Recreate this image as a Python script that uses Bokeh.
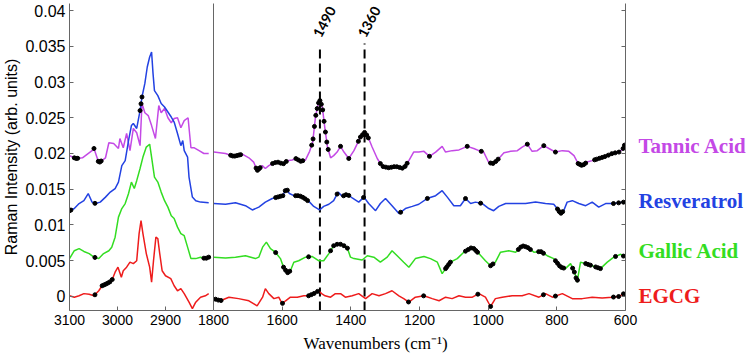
import numpy as np
from bokeh.plotting import figure
from bokeh.layouts import row
from bokeh.models import Range1d, FixedTicker, NumeralTickFormatter, Label, Title, ColumnDataSource
from bokeh.core.properties import value
from bokeh.embed import file_html
from bokeh.resources import INLINE

# ---------------- data (wavenumber in cm-1, Raman intensity in arb. units) ----------------
# Left panel: 3100 - 2800 cm-1
TA_L_W = [3100, 3087, 3073, 3053, 3049, 3039, 3025, 3018, 3008, 2998, 2995, 2988, 2981, 2974, 2967,
          2960, 2953, 2949, 2943, 2936, 2929, 2921, 2914, 2909, 2902, 2895, 2888, 2882, 2875, 2868,
          2861, 2853, 2847, 2840, 2830, 2820, 2810]
TA_L_V = [0.0197, 0.0193, 0.0194, 0.0204, 0.0207, 0.0187, 0.0194, 0.0215, 0.0214, 0.0207, 0.0221,
          0.0208, 0.0228, 0.0204, 0.0235, 0.0229, 0.0211, 0.0270, 0.0257, 0.0253, 0.0239, 0.0221,
          0.0267, 0.0257, 0.0263, 0.0250, 0.0243, 0.0249, 0.0250, 0.0236, 0.0246, 0.0250, 0.0208,
          0.0208, 0.0204, 0.0200, 0.0200]

RE_L_W = [3100, 3090, 3080, 3070, 3061, 3053, 3046, 3036, 3025, 3015, 3005, 2998, 2991, 2984, 2977,
          2971, 2967, 2960, 2953, 2949, 2943, 2938, 2933, 2929, 2926, 2923, 2916, 2909, 2902, 2895,
          2888, 2882, 2875, 2868, 2864, 2861, 2854, 2851, 2844, 2837, 2827, 2810]
RE_L_V = [0.0120, 0.0123, 0.0130, 0.0134, 0.0144, 0.0132, 0.0130, 0.0132, 0.0139, 0.0146, 0.0151,
          0.0160, 0.0183, 0.0190, 0.0218, 0.0239, 0.0242, 0.0235, 0.0260, 0.0279, 0.0298, 0.0321,
          0.0335, 0.0342, 0.0312, 0.0288, 0.0281, 0.0270, 0.0265, 0.0258, 0.0251, 0.0244, 0.0228,
          0.0211, 0.0218, 0.0204, 0.0195, 0.0167, 0.0139, 0.0134, 0.0132, 0.0131]

GA_L_W = [3100, 3090, 3080, 3070, 3059, 3049, 3039, 3029, 3018, 3012, 3005, 2998, 2991, 2984, 2977,
          2971, 2965, 2960, 2953, 2947, 2940, 2933, 2929, 2923, 2916, 2909, 2902, 2895, 2888, 2882,
          2875, 2868, 2861, 2854, 2847, 2837, 2827, 2817, 2810]
GA_L_V = [0.0053, 0.0064, 0.0067, 0.0063, 0.0060, 0.0055, 0.0053, 0.0060, 0.0064, 0.0069, 0.0083,
          0.0111, 0.0123, 0.0130, 0.0144, 0.0160, 0.0151, 0.0162, 0.0179, 0.0195, 0.0209, 0.0213,
          0.0195, 0.0167, 0.0160, 0.0146, 0.0134, 0.0125, 0.0113, 0.0109, 0.0097, 0.0088, 0.0085,
          0.0069, 0.0053, 0.0053, 0.0055, 0.0053, 0.0055]

EG_L_W = [3100, 3090, 3080, 3070, 3059, 3049, 3039, 3032, 3022, 3012, 3005, 2999, 2992, 2988, 2981,
          2974, 2967, 2960, 2955, 2951, 2947, 2940, 2933, 2929, 2925, 2920, 2916, 2912, 2907, 2900,
          2889, 2882, 2875, 2868, 2861, 2851, 2844, 2837, 2827, 2817, 2810]
EG_L_V = [0.0001, -0.0001, 0.0001, 0.0004, 0.0003, 0.0001, 0.0008, 0.0015, 0.0018, 0.0022, 0.0034,
          0.0041, 0.0027, 0.0036, 0.0041, 0.0048, 0.0046, 0.0050, 0.0088, 0.0106, 0.0088, 0.0060,
          0.0041, 0.0020, 0.0050, 0.0083, 0.0081, 0.0060, 0.0036, 0.0029, 0.0025, 0.0015, 0.0008,
          0.0011, 0.0004, -0.0008, -0.0017, -0.0008, -0.0001, 0.0001, 0.0004]

# Right panel: 1800 - 600 cm-1
TA_R_W = [1799, 1765, 1741, 1716, 1697, 1683, 1673, 1658, 1649, 1639, 1624, 1610, 1598, 1585, 1571,
          1559, 1547, 1532, 1520, 1511, 1503, 1495, 1490, 1483, 1476, 1468, 1459, 1450, 1440, 1430,
          1420, 1406, 1391, 1372, 1359, 1348, 1338, 1323, 1309, 1289, 1270, 1246, 1231, 1217, 1202,
          1187, 1171, 1153, 1134, 1124, 1105, 1085, 1061, 1042, 1027, 1013, 998, 984, 969, 954,
          935, 915, 901, 886, 872, 857, 838, 823, 804, 784, 765, 750, 738, 726, 712,
          697, 678, 658, 639, 619, 607, 601]
TA_R_V = [0.0202, 0.0200, 0.0196, 0.0199, 0.0194, 0.0188, 0.0176, 0.0183, 0.0179, 0.0183, 0.0187,
          0.0188, 0.0185, 0.0190, 0.0191, 0.0193, 0.0189, 0.0191, 0.0203, 0.0216, 0.0251, 0.0270,
          0.0274, 0.0265, 0.0237, 0.0209, 0.0194, 0.0197, 0.0202, 0.0210, 0.0202, 0.0193, 0.0204,
          0.0223, 0.0230, 0.0221, 0.0209, 0.0193, 0.0182, 0.0180, 0.0182, 0.0179, 0.0190, 0.0202,
          0.0202, 0.0203, 0.0196, 0.0202, 0.0210, 0.0202, 0.0204, 0.0205, 0.0210, 0.0207, 0.0204,
          0.0202, 0.0187, 0.0186, 0.0193, 0.0201, 0.0203, 0.0204, 0.0209, 0.0213, 0.0203, 0.0204,
          0.0211, 0.0207, 0.0202, 0.0204, 0.0203, 0.0197, 0.0186, 0.0183, 0.0188, 0.0190, 0.0193,
          0.0196, 0.0200, 0.0202, 0.0207, 0.0214]

RE_R_W = [1799, 1765, 1736, 1707, 1687, 1668, 1649, 1629, 1614, 1598, 1588, 1579, 1566, 1550, 1537,
          1520, 1508, 1491, 1479, 1464, 1450, 1437, 1425, 1411, 1396, 1377, 1362, 1348, 1328, 1314,
          1299, 1280, 1260, 1241, 1221, 1202, 1178, 1153, 1134, 1119, 1100, 1081, 1066, 1051, 1037,
          1017, 998, 984, 969, 949, 920, 891, 862, 833, 809, 799, 789, 780, 770, 755,
          736, 716, 697, 678, 658, 634, 605]
RE_R_V = [0.0130, 0.0129, 0.0131, 0.0127, 0.0121, 0.0125, 0.0132, 0.0137, 0.0139, 0.0141, 0.0151,
          0.0144, 0.0141, 0.0141, 0.0138, 0.0132, 0.0126, 0.0121, 0.0126, 0.0129, 0.0134, 0.0146,
          0.0140, 0.0143, 0.0138, 0.0132, 0.0139, 0.0130, 0.0120, 0.0130, 0.0137, 0.0127, 0.0116,
          0.0123, 0.0126, 0.0129, 0.0137, 0.0141, 0.0148, 0.0139, 0.0127, 0.0127, 0.0137, 0.0130,
          0.0132, 0.0130, 0.0123, 0.0120, 0.0126, 0.0130, 0.0130, 0.0130, 0.0132, 0.0130, 0.0129,
          0.0123, 0.0116, 0.0120, 0.0132, 0.0134, 0.0130, 0.0127, 0.0132, 0.0125, 0.0130, 0.0130,
          0.0132]

GA_R_W = [1799, 1765, 1736, 1707, 1678, 1668, 1657, 1646, 1634, 1620, 1605, 1596, 1585, 1576, 1566,
          1552, 1532, 1513, 1494, 1479, 1464, 1450, 1435, 1420, 1411, 1401, 1391, 1367, 1352, 1333,
          1314, 1294, 1280, 1265, 1246, 1231, 1212, 1187, 1168, 1148, 1134, 1124, 1110, 1090, 1071,
          1046, 1027, 1008, 993, 979, 964, 940, 920, 901, 886, 867, 847, 828, 809, 789,
          775, 760, 747, 741, 731, 716, 697, 673, 653, 634, 614, 601]
GA_R_V = [0.0055, 0.0054, 0.0055, 0.0057, 0.0053, 0.0055, 0.0069, 0.0076, 0.0067, 0.0062, 0.0053,
          0.0041, 0.0033, 0.0036, 0.0048, 0.0050, 0.0055, 0.0056, 0.0050, 0.0050, 0.0060, 0.0071,
          0.0074, 0.0071, 0.0069, 0.0055, 0.0053, 0.0051, 0.0057, 0.0055, 0.0048, 0.0055, 0.0064,
          0.0057, 0.0048, 0.0041, 0.0053, 0.0056, 0.0053, 0.0048, 0.0032, 0.0039, 0.0048, 0.0053,
          0.0062, 0.0069, 0.0060, 0.0050, 0.0043, 0.0048, 0.0062, 0.0064, 0.0062, 0.0071, 0.0069,
          0.0062, 0.0063, 0.0057, 0.0053, 0.0041, 0.0039, 0.0046, 0.0032, 0.0020, 0.0048, 0.0046,
          0.0043, 0.0039, 0.0048, 0.0055, 0.0059, 0.0055]

EG_R_W = [1799, 1780, 1755, 1727, 1697, 1673, 1657, 1649, 1639, 1624, 1610, 1600, 1590, 1576, 1556,
          1537, 1523, 1508, 1494, 1485, 1475, 1459, 1445, 1430, 1416, 1396, 1377, 1357, 1338, 1318,
          1299, 1280, 1260, 1246, 1231, 1212, 1187, 1163, 1143, 1124, 1105, 1085, 1066, 1046, 1027,
          1008, 993, 979, 959, 930, 901, 881, 852, 833, 813, 784, 755, 726, 697, 668,
          639, 619, 605]
EG_R_V = [-0.0003, -0.0006, -0.0001, -0.0003, -0.0006, -0.0013, -0.0001, 0.0011, 0.0004, -0.0003,
          -0.0001, -0.0010, -0.0006, -0.0001, -0.0001, 0.0001, 0.0001, 0.0004, 0.0008, 0.0004,
          0.0001, -0.0001, 0.0004, 0.0004, -0.0001, 0.0001, 0.0004, -0.0003, 0.0004, 0.0001,
          0.0004, 0.0008, 0.0001, -0.0003, -0.0008, -0.0001, 0.0001, -0.0003, -0.0006, -0.0001,
          -0.0003, 0.0001, -0.0001, -0.0001, 0.0004, -0.0001, -0.0014, -0.0003, -0.0001, 0.0001,
          0.0001, 0.0004, -0.0001, 0.0004, -0.0001, 0.0004, -0.0003, -0.0003, -0.0001, -0.0002,
          -0.0001, 0.0000, 0.0004]

# wavenumbers carrying the black significance markers
TA_MARKS = [3090, 3086, 3083, 3049, 3040, 3037, 3034, 1750, 1744, 1738, 1732, 1726, 1721, 1676, 1672,
            1668, 1664, 1628, 1620, 1612, 1604, 1596, 1588, 1560, 1553, 1546, 1540, 1514, 1510, 1506,
            1502, 1498, 1494, 1490, 1486, 1482, 1478, 1474, 1470, 1466, 1430, 1406, 1378, 1372, 1366,
            1360, 1354, 1349, 1314, 1306, 1298, 1290, 1282, 1274, 1266, 1258, 1250, 1242, 1236, 1171,
            1061, 1020, 993, 986, 978, 971, 886, 838, 804, 738, 733, 728, 722, 716, 690, 684, 676,
            668, 660, 650, 640, 630, 619, 607, 603]
RE_MARKS = [3100, 3097, 3047, 2953, 2951, 2949, 1619, 1612, 1605, 1598, 1591, 1585, 1561, 1554, 1547,
            1540, 1533, 1526, 1440, 1421, 1414, 1406, 1363, 1255, 1177, 1066, 1022, 798, 793, 788,
            783, 635, 620, 606]
GA_MARKS = [3047, 2820, 2815, 2810, 1619, 1596, 1590, 1584, 1578, 1523, 1459, 1450, 1440, 1430, 1420,
            1410, 1124, 1120, 1115, 1110, 1066, 1058, 1050, 1042, 1036, 1031, 993, 986, 912, 905, 898,
            891, 884, 877, 853, 846, 839, 804, 798, 792, 786, 780, 754, 749, 744, 740, 716, 709, 702,
            687, 680, 673, 629, 606]
EG_MARKS = [3047, 3032, 3028, 3024, 3020, 3016, 3011, 1794, 1786, 1778, 1599, 1523, 1515, 1507, 1497,
            1232, 1188, 1030, 993, 839, 804, 635, 620, 606]

NAMES = ["Tannic Acid", "Resveratrol", "Gallic Acid", "EGCG"]
COLORS = ["#C449E6", "#2342E2", "#33DD22", "#EE1C1C"]
NAME_Y = [0.0210, 0.0134, 0.0063, 0.0000]

Y_TICKS = [0, 0.005, 0.01, 0.015, 0.02, 0.025, 0.03, 0.035, 0.04]
XL_TICKS = [3100, 3000, 2900]
XR_TICKS = [1800, 1600, 1400, 1200, 1000, 800, 600]
PEAKS = [1490, 1360]
PEAK_TOP = [0.0351, 0.0354]
PEAK_LABEL_Y = 0.0364

SERIES = [
    (TA_L_W, TA_L_V, TA_R_W, TA_R_V, TA_MARKS),
    (RE_L_W, RE_L_V, RE_R_W, RE_R_V, RE_MARKS),
    (GA_L_W, GA_L_V, GA_R_W, GA_R_V, GA_MARKS),
    (EG_L_W, EG_L_V, EG_R_W, EG_R_V, EG_MARKS),
]

AXIS_COLOR = "#666666"
SANS = "Liberation Sans"
SERIF = "Liberation Serif"
Y_RANGE = Range1d(-0.00196, 0.04098)
COMMON = dict(height=360, y_range=Y_RANGE, output_backend="svg", toolbar_location=None,
              min_border_top=3, min_border_bottom=50)


def marks_on(marks, w, v):
    w = np.asarray(w, dtype=float)
    v = np.asarray(v, dtype=float)
    m = np.asarray([x for x in marks if w.min() <= x <= w.max()], dtype=float)
    return m, np.interp(m, w[::-1], v[::-1])


def style_xaxis(ax, ticks):
    ax.ticker = FixedTicker(ticks=ticks)
    ax.axis_line_color = AXIS_COLOR
    ax.major_tick_line_color = AXIS_COLOR
    ax.major_tick_in = 4
    ax.major_tick_out = 0
    ax.minor_tick_line_color = None
    ax.major_label_text_font = SANS
    ax.major_label_text_font_size = "14px"
    ax.major_label_text_color = "black"
    ax.major_label_standoff = 4


# ---------------- left panel (3100-2800) ----------------
left = figure(width=213, x_range=Range1d(3100, 2800), min_border_left=67, min_border_right=0,
              **COMMON)
left.outline_line_color = None
left.xgrid.visible = False
left.ygrid.visible = False
style_xaxis(left.xaxis[0], XL_TICKS)
ly = left.yaxis[0]
ly.ticker = FixedTicker(ticks=Y_TICKS)
ly.formatter = NumeralTickFormatter(format="0.[000]")
ly.axis_line_color = AXIS_COLOR
ly.major_tick_line_color = AXIS_COLOR
ly.major_tick_in = 4
ly.major_tick_out = 0
ly.minor_tick_line_color = None
ly.major_label_text_font = SANS
ly.major_label_text_font_size = "16px"
ly.major_label_text_color = "black"
ly.major_label_standoff = 4
ly.axis_label = "Raman Intensity (arb. units)"
ly.axis_label_text_font = SANS
ly.axis_label_text_font_size = "16px"
ly.axis_label_text_font_style = "normal"
ly.axis_label_text_color = "black"
ly.axis_label_standoff = 2

# ---------------- right panel (1800-600) ----------------
right = figure(width=457, x_range=Range1d(1800, 600), min_border_left=25, min_border_right=20,
               background_fill_color=None, border_fill_color=None, margin=(0, 0, 0, -25),
               **COMMON)
right.outline_line_color = None
right.xgrid.visible = False
right.ygrid.visible = False
style_xaxis(right.xaxis[0], XR_TICKS)
ry = right.yaxis[0]
ry.ticker = FixedTicker(ticks=[])
ry.axis_line_color = AXIS_COLOR
ry.major_tick_line_color = None
ry.minor_tick_line_color = None
ry.major_label_standoff = 0
right.add_layout(Title(text="Wavenumbers (cm\u207b\u00b9)", align="left", offset=90, standoff=8,
                       text_font=SERIF, text_font_size="17px", text_font_style="normal",
                       text_color="black"), "below")

# dashed peak markers + their labels
right.segment(x0=PEAKS, y0=[Y_RANGE.start] * len(PEAKS), x1=PEAKS, y1=PEAK_TOP,
              line_color="black", line_width=2, line_dash="9 5")
for w in PEAKS:
    right.add_layout(Label(x=w, y=PEAK_LABEL_Y, text=str(w), angle=62, angle_units="deg",
                           text_align="left", text_baseline="middle", text_font="Lato",
                           text_font_style="bold", text_font_size="14px", text_color="black",
                           x_offset=-3))

# curves + significance markers
for (lw, lv, rw, rv, mk), color in zip(SERIES, COLORS):
    left.line(lw, lv, line_color=color, line_width=1.5)
    right.line(rw, rv, line_color=color, line_width=1.5)
    mx, my = marks_on(mk, lw, lv)
    left.scatter(mx, my, size=4, color="black")
    mx, my = marks_on(mk, rw, rv)
    right.scatter(mx, my, size=4, color="black")

# ---------------- names column (right axis + series names) ----------------
names = figure(width=139, x_range=Range1d(0, 1), min_border_left=10, min_border_right=0,
               background_fill_color=None, border_fill_color=None, margin=(0, 0, 0, -30),
               **COMMON)
names.outline_line_color = None
names.xgrid.visible = False
names.ygrid.visible = False
names.xaxis.visible = False
ny = names.yaxis[0]
ny.ticker = FixedTicker(ticks=Y_TICKS)
ny.axis_line_color = AXIS_COLOR
ny.major_tick_line_color = AXIS_COLOR
ny.major_tick_in = 0
ny.major_tick_out = 4
ny.minor_tick_line_color = None
ny.major_label_text_font_size = "0px"
ny.major_label_text_color = None
ny.major_label_standoff = 0
src = ColumnDataSource(dict(x=[0] * len(NAMES), y=NAME_Y, text=NAMES, color=COLORS))
names.text(x="x", y="y", text="text", text_color="color", source=src, x_offset=13,
           text_align="left", text_baseline="middle", text_font=value(SERIF),
           text_font_style="bold", text_font_size=value("21px"))

layout = row(left, right, names, spacing=0)
open("out.html", "w").write(file_html(layout, INLINE))
